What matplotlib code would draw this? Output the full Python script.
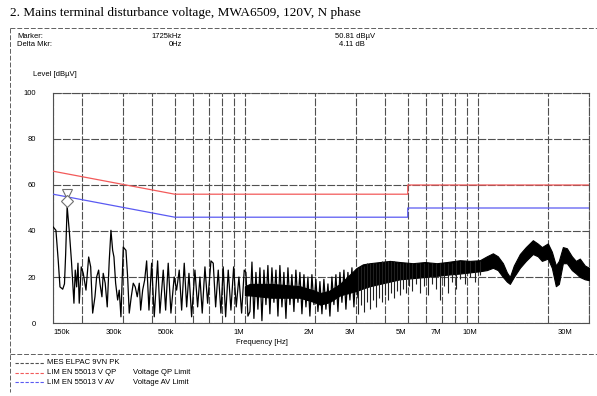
import matplotlib
matplotlib.use("Agg")
import matplotlib.pyplot as plt
from matplotlib.lines import Line2D
from matplotlib import transforms
from matplotlib.ticker import NullFormatter

# DATA (frequencies in MHz, levels in dBuV)
# low band trace, 150k - 1M (read peak by peak)
low_f = [0.1504, 0.1544, 0.1580, 0.1607, 0.1651, 0.1680, 0.1700, 0.1725, 0.1765, 0.1800,
         0.1845, 0.1869, 0.1895, 0.1920, 0.1944, 0.1983, 0.2023, 0.2078, 0.2134, 0.2177,
         0.2220, 0.2271, 0.2309, 0.2355, 0.2385, 0.2433, 0.2464, 0.2513, 0.2564, 0.2615,
         0.2660, 0.2705, 0.2740, 0.2786, 0.2842, 0.2887, 0.2936, 0.3004, 0.3085, 0.3137,
         0.3187, 0.3251, 0.3316, 0.3382, 0.3450, 0.3519, 0.3568, 0.3639, 0.3711, 0.3785,
         0.3873, 0.3977, 0.4081, 0.4219, 0.4316, 0.4460, 0.4567, 0.4685, 0.4812, 0.4970,
         0.5090, 0.5224, 0.5350, 0.5489, 0.5622, 0.5751, 0.5904, 0.6101, 0.6266, 0.6410,
         0.6557, 0.6735, 0.6917, 0.7147, 0.7311, 0.7486, 0.7682, 0.7888, 0.8069, 0.8264,
         0.8479, 0.8708, 0.8944, 0.9177, 0.9424, 0.9679, 0.9931]
low_lvl = [41.7, 40.3, 27, 15.7, 14.7, 17, 30, 50.8, 39, 27,
           8.6, 23, 15.7, 26, 8.6, 24.4, 21.6, 14.3, 28.7, 24.4,
           4.3, 11.4, 20, 23, 17.3, 11.4, 21.6, 17.3, 7, 27,
           40.3, 31.6, 28.7, 17.3, 10, 14.3, 2.7, 33, 31.6, 20,
           4.3, 11.4, 17.3, 15.7, 11.4, 17.3, 5.6, 14.3, 18.6, 27,
           5.6, 26, 2.7, 27, 4.3, 23, 5.6, 26, 4.3, 20,
           14.3, 23, 5.6, 26, 7, 21.6, 2.7, 23, 7, 20,
           4.3, 24.4, 8.6, 27, 26, 7, 23, 4.3, 24.4, 2.7,
           23, 5.6, 24.4, 7, 20, 4.3, 23]

# 1M - 3M trace
mid_f = [1.010, 1.030, 1.051, 1.072, 1.093, 1.115, 1.137, 1.160, 1.183, 1.207,
         1.231, 1.255, 1.280, 1.306, 1.332, 1.359, 1.386, 1.413, 1.442, 1.470,
         1.500, 1.530, 1.560, 1.591, 1.623, 1.655, 1.689, 1.722, 1.757, 1.792,
         1.828, 1.864, 1.901, 1.939, 1.978, 2.017, 2.058, 2.099, 2.141, 2.183,
         2.227, 2.272, 2.317, 2.363, 2.410, 2.458, 2.508, 2.558, 2.609, 2.661,
         2.714, 2.768, 2.823, 2.880, 2.937, 2.996, 3.056]
mid_lvl = [22, 3, 5, 26.5, 2, 22, 6, 24, 1, 23,
           8, 25, 4, 24, 9, 23, 3, 25, 7, 22,
           2, 24, 8, 21, 5, 23, 9, 22, 4, 21,
           7, 20, 3, 21, 8, 19, 5, 18, 4, 19,
           6, 17, 3, 20, 8, 21, 5, 22, 9, 23,
           6, 22, 10, 24, 7, 23, 11]

# dense part: envelope of the peak trace
band_f = [1.0, 1.05, 1.3, 1.72, 2.0, 2.1, 2.3, 2.56,
          3.025, 3.21, 3.44, 3.797, 4.192, 4.627, 5.26, 5.924, 6.668, 7.362, 8.371, 9.24, 10.2,
          10.93, 11.6, 12.18, 12.81, 13.32, 13.72, 14.27, 15.15, 16.07, 17.22, 18.09, 18.83,
          19.97, 20.78, 21.62, 22.27, 23.17, 24.1, 25.32, 26.34, 27.4, 28.79, 30]
band_hi = [16, 17, 17, 16, 14, 13, 14, 17,
           24, 25.5, 26, 26.5, 27, 26.5, 26, 26.5, 26, 26.5, 27.3, 27, 27.3,
           29, 30.3, 29, 26, 22, 20, 25, 30, 33, 36, 34.5, 33,
           34.6, 31, 25, 27, 33, 32.5, 29, 27, 28, 25, 24]
band_lo = [12, 12, 11, 11, 9, 8, 9, 12,
           14, 15, 16, 17, 18, 19, 19.5, 20, 20.5, 21, 21.5, 22, 22.5,
           23, 24, 23, 20, 18, 17, 20, 24, 27, 30, 29, 27,
           28, 24, 16, 17, 26, 26, 23, 21.6, 20, 19, 18.6]

# downward spikes 3M - 10M
dip_f = [3.055, 3.147, 3.242, 3.340, 3.440, 3.543, 3.650, 3.760, 3.873, 3.990,
         4.110, 4.234, 4.361, 4.492, 4.627, 4.767, 4.910, 5.058, 5.209, 5.419,
         5.638, 5.866, 6.101, 6.347, 6.602, 6.868, 7.145, 7.434, 7.733, 8.045,
         8.371, 8.795, 9.240, 9.708, 10.20]
dip_lo = [4, 8, 5, 9, 6, 10, 7, 11, 9, 12,
          10, 13, 11, 14, 12, 15, 13, 16, 14, 17,
          13, 16, 12, 17, 15, 10, 16, 13, 18, 15,
          19, 17, 20, 18, 21]
dip_top = [24, 25, 25, 26, 26, 26, 26, 26, 27, 27,
           27, 27, 27, 26, 26, 26, 26, 26, 26, 26,
           26, 26, 26, 26, 26, 26, 26, 26, 26, 27,
           27, 27, 27, 27, 27]

# limits EN 55013
qp_f = [0.15, 0.5, 5, 5, 30]
qp_lvl = [66, 56, 56, 60, 60]
av_f = [0.15, 0.5, 5, 5, 30]
av_lvl = [56, 46, 46, 50, 50]

marker_f = 0.1725
marker_lvl = 50.81

xticks = [0.15, 0.3, 0.5, 1, 2, 3, 5, 7, 10, 30]
xlabels = ["150k", "300k", "500k", "1M", "2M", "3M", "5M", "7M", "10M", "30M"]
yticks = [0, 20, 40, 60, 80, 100]

# FIGURE
W, H = 597, 396
plt.rcParams['font.family'] = ['Liberation Sans', 'DejaVu Sans']
fig = plt.figure(figsize=(W / 100, H / 100), dpi=100)


def fx(x):
    return x / W


def fy(y):
    return 1 - y / H


ax = fig.add_axes([fx(53), fy(323), 536 / W, 230 / H])
ax.set_xscale('log')
ax.set_xlim(0.15, 30)
ax.set_ylim(0, 100)

gcol = '#505050'
ax.grid(True, which='both', color=gcol, lw=0.8, linestyle=(0, (7, 1.5)))
ax.set_axisbelow(True)
for s in ax.spines.values():
    s.set_color(gcol)
    s.set_linewidth(0.8)
    s.set_linestyle((0, (7, 1.5)))
ax.spines['left'].set_linestyle('-')
ax.spines['bottom'].set_linestyle('-')

ax.set_xticks(xticks)
ax.set_xticklabels(xlabels)
ax.xaxis.set_minor_formatter(NullFormatter())
ax.set_yticks(yticks)
ax.tick_params(which='both', length=0, labelsize=5.5, pad=4)
ax.tick_params(axis='y', pad=12)
for i, lab in enumerate(ax.get_xticklabels()):
    if i == 0:
        lab.set_ha('left')
    else:
        lab.set_ha('right')
        dx = -17 if i == len(xlabels) - 1 else -1
        lab.set_transform(lab.get_transform() +
                          transforms.ScaledTranslation(dx / 100, 0, fig.dpi_scale_trans))

# limit lines
ax.plot(qp_f, qp_lvl, color='#f25a5a', lw=0.9, zorder=3)
ax.plot(av_f, av_lvl, color='#5a5af2', lw=0.9, zorder=3)

# measurement
ax.plot(low_f + mid_f, low_lvl + mid_lvl, color='black', lw=0.9, zorder=4)
ax.fill_between(band_f, band_lo, band_hi, color='black', lw=0.8, edgecolor='black', zorder=4)
ax.vlines(dip_f, dip_lo, dip_top, color='#202020', lw=0.8, zorder=4)

# marker symbols
tri = transforms.offset_copy(ax.transData, fig=fig, y=12.5, units='dots')
dia = transforms.offset_copy(ax.transData, fig=fig, y=5, units='dots')
ax.plot(marker_f, marker_lvl, marker='v', ms=7, mfc='white', mec='#707070', mew=0.8,
        transform=tri, zorder=6, clip_on=False)
ax.plot(marker_f, marker_lvl, marker='D', ms=6, mfc='white', mec='#707070', mew=0.8,
        transform=dia, zorder=6, clip_on=False)

# header / frame
fig.text(fx(10), fy(13), "2. Mains terminal disturbance voltage, MWA6509, 120V, N phase",
         family='Liberation Serif', fontsize=9.5, va='center', ha='left')
dash = (0, (5, 2))
for (x0, y0, x1, y1) in [(10, 28, 597, 28), (10, 28, 10, 392), (10, 354, 597, 354)]:
    fig.add_artist(Line2D([fx(x0), fx(x1)], [fy(y0), fy(y1)], color='#606060',
                          lw=0.7, linestyle=dash))

fs = 5.5
fig.text(fx(17), fy(37), "Marker:", fontsize=fs, va='center')
fig.text(fx(17), fy(45), "Delta Mkr:", fontsize=fs, va='center')
fig.text(fx(182), fy(37), "1725kHz", fontsize=fs, va='center', ha='right')
fig.text(fx(182), fy(45), "0Hz", fontsize=fs, va='center', ha='right')
fig.text(fx(335), fy(37), "50.81 dB\u00b5V", fontsize=fs, va='center')
fig.text(fx(339), fy(45), "4.11 dB", fontsize=fs, va='center')
fig.text(fx(33), fy(75), "Level [dB\u00b5V]", fontsize=fs, va='center')
fig.text(fx(262), fy(342), "Frequency [Hz]", fontsize=fs, va='center', ha='center')

# legend
leg_rows = [("MES ELPAC 9VN PK", "", '#505050'),
            ("LIM EN 55013 V QP", "Voltage QP Limit", '#f25a5a'),
            ("LIM EN 55013 V AV", "Voltage AV Limit", '#5a5af2')]
for k, (name, desc, col) in enumerate(leg_rows):
    y = 363 + 9.5 * k
    fig.add_artist(Line2D([fx(15), fx(45)], [fy(y), fy(y)], color=col, lw=0.8,
                          linestyle=(0, (3, 1.5))))
    fig.text(fx(47), fy(y), name, fontsize=fs, va='center')
    if desc:
        fig.text(fx(133), fy(y), desc, fontsize=fs, va='center')

fig.savefig("out.png", dpi=100)
